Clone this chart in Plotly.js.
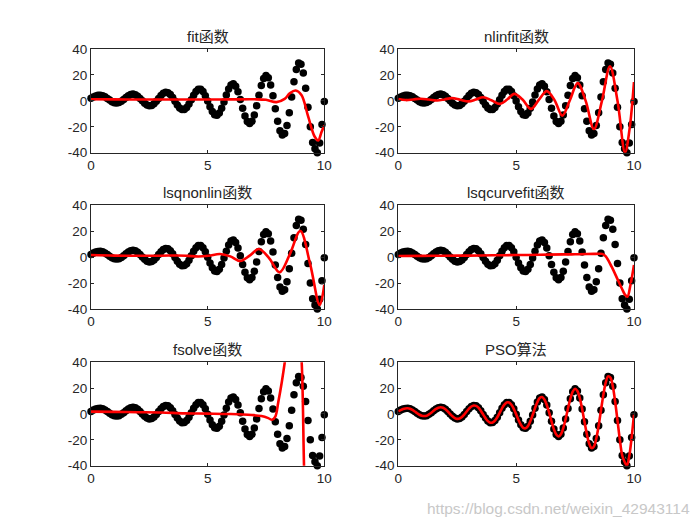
<!DOCTYPE html>
<html><head><meta charset="utf-8">
<script src="https://cdn.plot.ly/plotly-3.0.1.min.js"></script>
<style>html,body{margin:0;padding:0;background:#fff}</style>
</head><body>
<div id="chart" style="width:700px;height:525px"></div>
<script>
// observed samples (black dots)
const dataX = [0,0.1,0.2,0.3,0.4,0.5,0.6,0.7,0.8,0.9,1,1.1,1.2,1.3,1.4,1.5,1.6,1.7,1.8,1.9,2,2.1,2.2,2.3,2.4,2.5,2.6,2.7,2.8,2.9,3,3.1,3.2,3.3,3.4,3.5,3.6,3.7,3.8,3.9,4,4.1,4.2,4.3,4.4,4.5,4.6,4.7,4.8,4.9,5,5.1,5.2,5.3,5.4,5.5,5.6,5.7,5.8,5.9,6,6.1,6.2,6.3,6.4,6.5,6.6,6.7,6.8,6.9,7,7.1,7.2,7.3,7.4,7.5,7.6,7.7,7.8,7.9,8,8.1,8.2,8.3,8.4,8.5,8.6,8.7,8.8,8.9,9,9.1,9.2,9.3,9.4,9.5,9.6,9.7,9.8,9.9,10];
const dataY = [2.0,3.0,3.8,4.3,4.4,4.0,3.1,1.9,0.6,-0.6,-1.4,-1.6,-1.3,-0.3,1.0,2.5,3.9,4.9,5.2,4.8,3.6,1.9,0.0,-1.8,-3.2,-3.8,-3.5,-2.3,-0.4,1.9,4.1,5.8,6.6,6.3,4.9,2.5,-0.4,-3.2,-5.5,-6.7,-6.6,-5.1,-2.5,0.9,4.4,7.2,8.9,8.9,7.2,4.0,-0.2,-4.6,-8.3,-10.7,-11.1,-9.4,-5.7,-0.8,4.5,9.2,12.3,13.1,11.2,7.0,1.0,-5.7,-11.7,-15.9,-17.4,-15.7,-10.9,-3.8,4.3,11.8,17.3,19.5,17.8,12.3,3.9,-6.1,-15.7,-23.0,-26.4,-25.1,-19.0,-9.1,2.9,14.8,24.2,29.1,28.2,21.4,9.7,-5.0,-19.9,-32.1,-37.0,-40.0,-32.5,-18.2,-0.5];

// fitted curves (red)
const fitX = [0,1,2,3,4,5,6,7,7.5,7.95,8.3,8.52,8.77,9.02,9.31,9.59,9.74,9.88,10];
const fitY = [1.2,1.1,1.0,1.0,1.0,1.0,1.1,1.2,0.8,-1.0,1.5,5.8,8.0,4.5,-12.2,-27.7,-30.5,-24,-19];

const nlinX = [0,0.32,0.63,0.94,1.3,1.65,1.96,2.27,2.62,2.98,3.29,3.6,3.95,4.31,4.62,4.92,5.27,5.63,5.97,6.3,6.63,6.96,7.28,7.61,7.95,8.3,8.64,8.98,9.3,9.62,9.81,10];
const nlinY = [1.5,0.6,1.1,1.6,1.0,0.3,1.1,2.1,0.9,-0.4,1.0,2.8,0.5,-2.3,1.0,5.4,1.0,-6.2,1.0,7.5,0.5,-11.4,0.5,13.7,0,-21.7,0,26.6,0,-39.8,-22,14.5];

const lsqnX = [0,1,2,3,3.7,4.15,4.6,5.05,5.53,5.97,6.4,6.8,7.2,7.64,8.08,8.52,8.97,9.4,9.8,10];
const lsqnY = [1.5,1.1,1.0,1.0,1.2,0.9,0.4,1.0,2.3,0.5,-3.1,1.0,6.2,-1.0,-11.8,2.0,20,-6,-36.9,-21.5];

const lsqcX = [0,1,2,3,4,5,6,7,7.5,8,8.3,8.5,8.65,8.8,9.05,9.3,9.48,9.62,9.72,9.85,10];
const lsqcY = [0.8,0.9,1.0,1.1,1.3,1.5,1.7,2.0,2.1,2.3,2.4,2.5,2.4,0.5,-7.4,-17,-24,-29,-30.5,-21.5,-6.2];

const fsolX = [0,1,2,3,4,5,6,6.9,7.3,7.6,7.76,7.9,8.03,8.18,8.32,8.5,8.7,8.9,9.03,9.13,9.25];
const fsolY = [1.8,1.6,1.4,1.2,0.5,0.3,0.0,-0.8,-1.6,-3.2,-4.5,-2,9.5,25,42,70,90,70,40,-40,-120];

const panelTitles = ['fit函数','nlinfit函数','lsqnonlin函数','lsqcurvefit函数','fsolve函数','PSO算法'];
const xTickVals = [0,5,10];
const xTickText = ['0','5','10'];
const yTickVals = [-40,-20,0,20,40];
const yTickText = ['-40','-20','0','20','40'];

const curves = [[fitX,fitY],[nlinX,nlinY],[lsqnX,lsqnY],[lsqcX,lsqcY],[fsolX,fsolY],[dataX,dataY]];

const colDom = [[0.130,0.4633],[0.569,0.9057]];
const rowDom = [[0.7091,0.9067],[0.4114,0.6095],[0.1130,0.3099]];
const FONT = '"Liberation Sans", Arial, "Noto Sans CJK SC", sans-serif';
const AX = '#262626';

const traces = [];
const layout = {
  width:700, height:525,
  margin:{l:0,r:0,t:0,b:0},
  paper_bgcolor:'#ffffff', plot_bgcolor:'#ffffff',
  showlegend:false,
  font:{family:FONT, size:13, color:AX},
  annotations:[]
};

for (let k=0;k<6;k++){
  const r = Math.floor(k/2), c = k%2;
  const sx = k===0 ? '' : String(k+1);
  const xa = 'x'+sx, ya = 'y'+sx;
  traces.push({x:dataX, y:dataY, xaxis:xa, yaxis:ya, type:'scatter', mode:'markers',
    marker:{color:'#000000', size:7.5, line:{width:0}}, cliponaxis:false, hoverinfo:'skip'});
  traces.push({x:curves[k][0], y:curves[k][1], xaxis:xa, yaxis:ya, type:'scatter', mode:'lines',
    line:{color:'#ff0000', width:2.6, shape:'spline', smoothing:1}, hoverinfo:'skip'});
  layout['xaxis'+sx] = {domain:colDom[c], anchor:ya, range:[0,10], tickvals:xTickVals, ticktext:xTickText,
    ticks:'inside', ticklen:3, tickwidth:1, tickcolor:AX, showline:true, linecolor:AX, linewidth:1,
    mirror:'ticks', showgrid:false, zeroline:false, tickfont:{size:13.5, color:AX}, fixedrange:true};
  layout['yaxis'+sx] = {domain:rowDom[r], anchor:xa, range:[-40,40], tickvals:yTickVals, ticktext:yTickText,
    ticks:'inside', ticklen:3, tickwidth:1, tickcolor:AX, showline:true, linecolor:AX, linewidth:1,
    mirror:'ticks', showgrid:false, zeroline:false, tickfont:{size:13.5, color:AX}, fixedrange:true};
  layout.annotations.push({text:panelTitles[k], xref:'paper', yref:'paper',
    x:(colDom[c][0]+colDom[c][1])/2, y:rowDom[r][1], xanchor:'center', yanchor:'bottom', yshift:2,
    showarrow:false, font:{family:FONT, size:15, color:AX}});
}
layout.annotations.push({text:'https://blog.csdn.net/weixin_42943114', xref:'paper', yref:'paper',
  x:1, y:0, xanchor:'right', yanchor:'bottom', xshift:-8, yshift:6, showarrow:false,
  font:{family:FONT, size:15.5, color:'#c8c8c8'}});

Plotly.newPlot('chart', traces, layout, {displayModeBar:false, staticPlot:true});
</script>
</body></html>
